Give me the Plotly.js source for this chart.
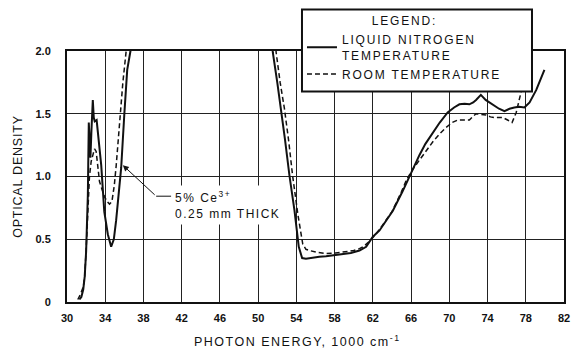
<!DOCTYPE html>
<html><head><meta charset="utf-8">
<script src="https://cdn.plot.ly/plotly-3.0.1.min.js"></script>
<style>
html,body{margin:0;padding:0;background:#fff;}
#chart{width:574px;height:354px;}
.legendtext,.legendtitletext{letter-spacing:1.8px;}
.annotation-text{letter-spacing:1.5px;}
.ytitle{letter-spacing:0.8px;}
</style></head><body><div id="chart"></div>
<script>
// Tick labels
const xTickVals = [30,34,38,42,46,50,54,58,62,66,70,74,78,82];
const yTickVals = [0,0.5,1,1.5,2];
const yTickText = ['0','0.5','1.0','1.5','2.0'];

// Series names
const seriesNames = ['LIQUID NITROGEN<br>TEMPERATURE','ROOM TEMPERATURE'];

// Liquid nitrogen temperature (solid) - values above 2.0 run off the chart top
const lnEnergy = [31.3,31.5,31.7,31.85,32.0,32.1,32.18,32.28,32.36,32.45,32.55,32.7,32.8,32.9,33.1,33.3,33.58,33.9,34.27,34.62,34.9,35.14,35.4,35.67,36.0,36.3,36.64,37.2,
  51.0,51.53,52.0,52.4,52.8,53.27,53.8,54.25,54.6,55.0,55.7,56.4,57.1,58.0,58.85,59.7,60.6,61.3,62.0,62.7,63.4,64.08,65.1,65.83,66.87,67.5,68.26,69.0,69.83,70.5,71.06,71.6,72.1,72.5,72.8,73.3,73.8,74.2,74.55,75.2,75.77,76.3,76.8,77.3,77.86,78.4,79.1,79.95];
const lnDensity = [0.02,0.04,0.1,0.2,0.4,0.6,0.85,1.43,1.25,1.15,1.35,1.61,1.47,1.44,1.45,1.3,1.09,0.72,0.54,0.44,0.5,0.65,0.85,1.07,1.5,1.85,2.0,2.5,
  2.5,1.99,1.75,1.54,1.3,1.01,0.73,0.44,0.35,0.345,0.355,0.36,0.365,0.375,0.386,0.39,0.41,0.44,0.52,0.57,0.65,0.725,0.88,1.0,1.17,1.26,1.35,1.43,1.51,1.55,1.575,1.58,1.575,1.59,1.61,1.65,1.61,1.59,1.575,1.54,1.52,1.54,1.55,1.555,1.55,1.59,1.69,1.85];

// Room temperature (dashed)
const rtEnergy = [31.13,31.4,31.7,31.85,32.0,32.18,32.35,32.53,32.7,32.88,33.05,33.2,33.4,33.65,33.92,34.2,34.45,34.7,34.95,35.15,35.35,35.5,35.84,36.19,36.6,
  51.5,51.88,52.3,52.75,53.2,53.6,54.15,54.67,55.0,55.37,56.2,57.1,58.1,59.2,60.0,60.6,61.0,61.6,62.3,63.0,64.0,65.0,65.5,66.2,66.87,67.5,68.26,69.0,69.66,70.3,70.88,71.5,72.1,72.5,72.8,73.3,73.85,74.3,74.7,75.2,75.6,76.1,76.57,77.0,77.5,78.0,78.55,79.0];
const rtDensity = [0.02,0.06,0.12,0.2,0.41,0.8,1.0,1.12,1.18,1.22,1.2,1.1,0.96,0.9,0.84,0.8,0.78,0.8,0.93,1.09,1.28,1.48,1.745,2.0,2.5,
  2.5,1.99,1.75,1.54,1.28,1.01,0.70,0.46,0.42,0.41,0.395,0.386,0.39,0.40,0.41,0.425,0.44,0.48,0.54,0.61,0.72,0.88,0.97,1.06,1.13,1.2,1.275,1.34,1.39,1.43,1.45,1.45,1.45,1.48,1.50,1.495,1.49,1.475,1.47,1.47,1.47,1.45,1.43,1.51,1.67,1.80,1.98,2.3];

// Callout
const calloutText = '5% Ce<sup>3+</sup><br>0.25 mm THICK';
const calloutPos = {x: 40.9, y: 0.776};
const arrowHead = {x: 35.84, y: 1.09};
const arrowTail = {x: 39.33, y: 0.843};

// Legend frame (paper coordinates)
const legendBox = {x0: 0.4728, x1: 0.9356, y0: 0.839, y1: 1.165};

const FONT = 'Liberation Sans, Arial, Helvetica, sans-serif';

const traces = [
  {x: lnEnergy, y: lnDensity, name: seriesNames[0], mode: 'lines', type: 'scatter',
   line: {color: '#111', width: 2}},
  {x: rtEnergy, y: rtDensity, name: seriesNames[1], mode: 'lines', type: 'scatter',
   line: {color: '#111', width: 1.5, dash: '5px,3px'}}
];

const layout = {
  width: 574, height: 354,
  margin: {l: 67, r: 10, t: 47, b: 52},
  paper_bgcolor: '#fff', plot_bgcolor: '#fff',
  font: {family: FONT, color: '#111', size: 12},
  showlegend: true,
  legend: {
    x: 0.4728, y: 1.165, xanchor: 'left', yanchor: 'top',
    bgcolor: 'rgba(0,0,0,0)', borderwidth: 0,
    font: {family: FONT, size: 12, color: '#111'},
    title: {text: 'LEGEND:', side: 'top center', font: {family: FONT, size: 12, color: '#111'}},
    itemwidth: 30, traceorder: 'normal'
  },
  xaxis: {
    range: [30, 82], tickmode: 'array', tickvals: xTickVals,
    showgrid: true, gridcolor: '#222', gridwidth: 1,
    showline: true, linecolor: '#111', linewidth: 2, mirror: true,
    zeroline: false, ticks: '', ticklabelstandoff: 5,
    tickfont: {family: FONT, size: 11, color: '#111', weight: 'bold'}
  },
  yaxis: {
    range: [0, 2], tickmode: 'array', tickvals: yTickVals, ticktext: yTickText,
    showgrid: true, gridcolor: '#222', gridwidth: 1,
    showline: true, linecolor: '#111', linewidth: 2, mirror: true,
    zeroline: false, ticks: '', ticklabelstandoff: 12,
    tickfont: {family: FONT, size: 11, color: '#111', weight: 'bold'},
    title: {text: 'OPTICAL DENSITY', font: {family: FONT, size: 12.5, color: '#111'}, standoff: 10}
  },
  shapes: [
    {type: 'line', xref: 'x', yref: 'y', x0: arrowTail.x, y0: arrowTail.y, x1: calloutPos.x, y1: arrowTail.y,
     line: {color: '#111', width: 1}, layer: 'above'},
    {type: 'rect', xref: 'paper', yref: 'paper', x0: legendBox.x0, x1: legendBox.x1, y0: legendBox.y0, y1: legendBox.y1,
     fillcolor: '#fff', line: {color: '#111', width: 2}, layer: 'above'}
  ],
  annotations: [
    {x: arrowHead.x, y: arrowHead.y, ax: arrowTail.x, ay: arrowTail.y, axref: 'x', ayref: 'y',
     xref: 'x', yref: 'y', text: '', showarrow: true, arrowhead: 2, arrowsize: 1.2, arrowwidth: 1,
     arrowcolor: '#111', standoff: 0},
    {x: calloutPos.x, y: calloutPos.y, xref: 'x', yref: 'y', text: calloutText, showarrow: false,
     xanchor: 'left', yanchor: 'middle', align: 'left', bgcolor: '#fff', borderpad: 3,
     font: {family: FONT, size: 12, color: '#111'}},
    {x: 0.464, y: -0.155, xref: 'paper', yref: 'paper', text: 'PHOTON ENERGY, 1000 cm<sup>-1</sup>',
     showarrow: false, xanchor: 'center', yanchor: 'middle',
     font: {family: FONT, size: 12.5, color: '#111'}}
  ]
};

Plotly.newPlot('chart', traces, layout, {displayModeBar: false, staticPlot: true});
</script></body></html>
